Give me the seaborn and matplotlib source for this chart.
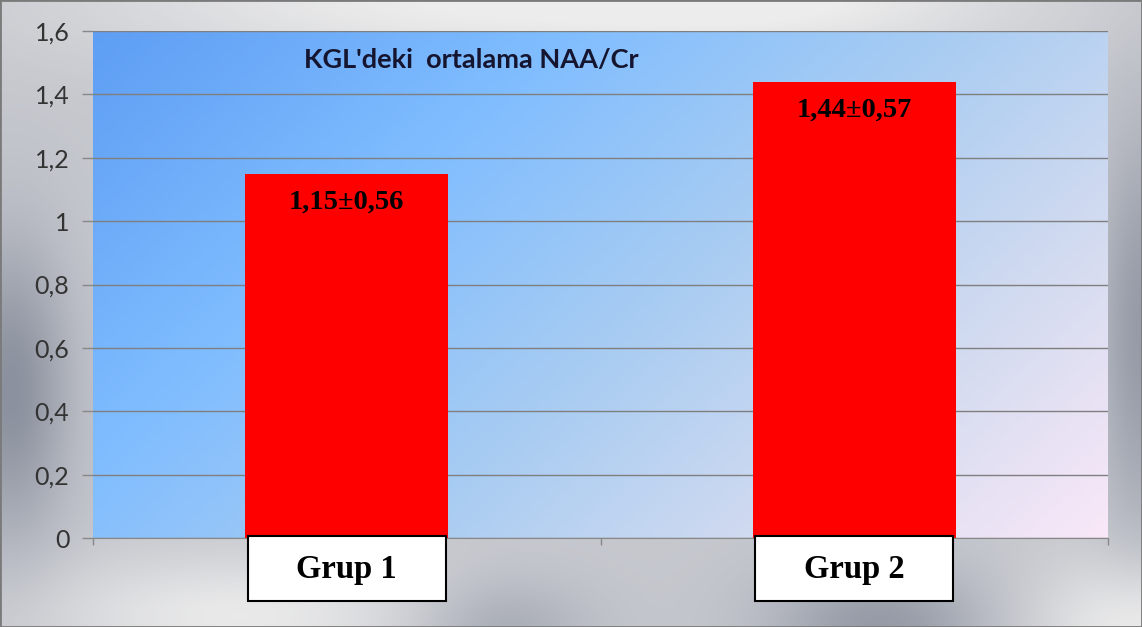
import numpy as np
import matplotlib.pyplot as plt
import matplotlib.transforms as mtransforms
import seaborn as sns
from matplotlib.colors import LinearSegmentedColormap
from matplotlib.patches import Rectangle

groups = ['Grup 1', 'Grup 2']
means = [1.15, 1.44]
sds = [0.56, 0.57]
yticks = [0, 0.2, 0.4, 0.6, 0.8, 1.0, 1.2, 1.4, 1.6]
title = "KGL'deki  ortalama NAA/Cr"

sns.set_style('white')
plt.rcParams['font.family'] = ['Lato', 'DejaVu Sans']

W, H = 1142, 627
fig = plt.figure(figsize=(W / 100, H / 100), dpi=100)

# metallic grey frame behind everything
yy, xx = np.mgrid[0:H, 0:W]


def blob(cx, cy, sx, sy):
    return np.exp(-((xx - cx) / sx) ** 2 - ((yy - cy) / sy) ** 2)


field = (0.62
         + 0.35 * blob(420, 0, 350, 70)
         + 0.30 * blob(800, 0, 250, 60)
         - 0.55 * blob(10, 390, 60, 150)
         + 0.35 * blob(240, 615, 200, 60)
         - 0.45 * blob(880, 625, 110, 60)
         - 0.30 * blob(500, 627, 90, 50)
         + 0.40 * blob(1142, 627, 110, 70)
         - 0.45 * blob(1142, 330, 45, 200))
field = np.clip(field, 0, 1)
metal = LinearSegmentedColormap.from_list('metal', ['#848a98', '#b9bcc4', '#ececec'])
bg = fig.add_axes([0, 0, 1, 1], zorder=-2)
bg.imshow(field, cmap=metal, vmin=0, vmax=1, aspect='auto', extent=[0, W, H, 0])
bg.axis('off')

# plot area gradient
pos = [93 / W, 89 / H, 1015 / W, 507 / H]
u, v = np.meshgrid(np.linspace(0, 1, 300), np.linspace(0, 1, 200))
t = 0.65 * u + 0.35 * v
sky = LinearSegmentedColormap.from_list(
    'sky', [(0, '#5e9ef4'), (0.3, '#80bdff'), (0.55, '#a8ccf2'),
            (0.8, '#d6dcf0'), (1, '#f9e8f8')])
pa = fig.add_axes(pos, zorder=-1)
pa.imshow(t, cmap=sky, vmin=0, vmax=1, aspect='auto', extent=[0, 1, 0, 1])
pa.axis('off')

ax = fig.add_axes(pos, zorder=1)
ax.patch.set_alpha(0)
sns.barplot(x=groups, y=means, color='#ff0000', saturation=1, width=0.4,
            linewidth=0, ax=ax)
ax.set_xlim(-0.5, 1.5)
ax.set_ylim(0, 1.6)
ax.set_yticks(yticks)
ax.set_yticklabels([f'{y:g}'.replace('.', ',') for y in yticks])
ax.set_xticks([-0.5, 0.5, 1.5])
ax.set_xticklabels([])
ax.set_xlabel('')
ax.set_ylabel('')
ax.tick_params(axis='y', left=True, length=8, width=1, color='#888888',
               labelsize=18, labelcolor='#333333', pad=9)
ax.tick_params(axis='x', bottom=True, length=5, width=1, color='#888888')
ax.yaxis.grid(True, color='#7f7f7f', lw=1)
ax.set_axisbelow(True)
for s in ['left', 'right', 'top']:
    ax.spines[s].set_visible(False)
ax.spines['bottom'].set_color('#888888')

trans = mtransforms.blended_transform_factory(ax.transData, ax.transAxes)
for i, g in enumerate(groups):
    ax.add_patch(Rectangle((i - 0.195, -0.124), 0.39, 0.128, transform=trans,
                           fc='white', ec='black', lw=1.5, clip_on=False, zorder=5))
    ax.text(i, -0.062, g, transform=trans, ha='center', va='center', color='black',
            fontsize=23.5, fontweight='bold', family='Liberation Serif', zorder=6)

for i, (m, s) in enumerate(zip(means, sds)):
    ax.text(i, m - 0.09, f'{m:.2f}±{s:.2f}'.replace('.', ','), ha='center',
            va='center', fontsize=20.5, fontweight='bold', color='black',
            family='Liberation Serif')

ax.text(0.373, 0.943, title, transform=ax.transAxes, ha='center', va='center',
        fontsize=19.5, fontweight='bold', color='#151530')

fig.patches.append(Rectangle((0, 0), 1, 1, transform=fig.transFigure, fill=False,
                             ec='#7a7a7a', lw=2))

fig.savefig('out.png', dpi=100)
